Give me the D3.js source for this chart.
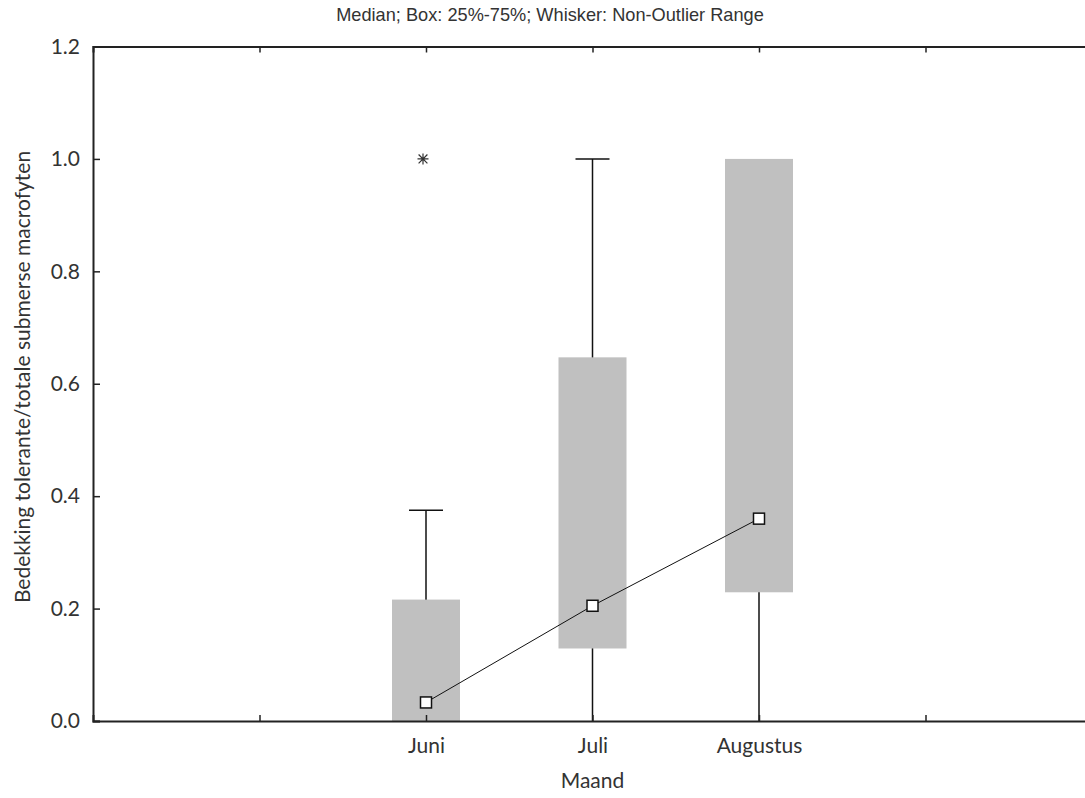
<!DOCTYPE html>
<html><head><meta charset="utf-8">
<script src="https://cdn.jsdelivr.net/npm/d3@7"></script>
<style>body{margin:0;background:#fff}</style>
</head><body>
<script>
const categories = ["Juni", "Juli", "Augustus"];
const medians = [0.033, 0.205, 0.360];
const q1 = [0.0, 0.129, 0.229];
const q3 = [0.216, 0.647, 1.0];
const whiskerLow = [0.0, 0.0, 0.0];
const whiskerHigh = [0.375, 1.0, 1.0];
const outliers = [{cat: "Juni", value: 1.0}];
const yTicks = [0.0, 0.2, 0.4, 0.6, 0.8, 1.0, 1.2];
const title = "Median; Box: 25%-75%; Whisker: Non-Outlier Range";
const xLabel = "Maand";
const yLabel = "Bedekking tolerante/totale submerse macrofyten";

const W = 1085, H = 798;
const svg = d3.select("body").append("svg").attr("width", W).attr("height", H);
const mLeft = 93, mRight = 1092, mTop = 46.5, mBottom = 721;
const x = d3.scalePoint().domain(["_l", "_a", ...categories, "_b", "_r"]).range([mLeft, mRight]);
const y = d3.scaleLinear().domain([0, 1.2]).range([mBottom, mTop]);
const tickFont = "Lato, 'Open Sans', sans-serif";
const fs = 21;

// title
svg.append("text").attr("x", 550).attr("y", 21).attr("text-anchor", "middle")
  .attr("font-family", "'Liberation Sans', Arial, sans-serif").attr("font-size", 18.2)
  .attr("fill", "#333").text(title);

const g = svg.append("g");
const boxW = 68, capW = 34;

categories.forEach((c, i) => {
  const cx = x(c);
  g.append("line").attr("x1", cx).attr("x2", cx).attr("y1", y(whiskerLow[i])).attr("y2", y(whiskerHigh[i]))
    .attr("stroke", "#111").attr("stroke-width", 1.5);
  if (whiskerHigh[i] > q3[i]) {
    g.append("line").attr("x1", cx - capW/2).attr("x2", cx + capW/2).attr("y1", y(whiskerHigh[i])).attr("y2", y(whiskerHigh[i]))
      .attr("stroke", "#111").attr("stroke-width", 1.5);
  }
  g.append("rect").attr("x", cx - boxW/2).attr("y", y(q3[i])).attr("width", boxW).attr("height", y(q1[i]) - y(q3[i]))
    .attr("fill", "#c0c0c0");
});

// outliers (8-armed asterisk)
outliers.forEach(o => {
  const cx = x(o.cat) - 3, cy = y(o.value), r = 5.5, d = r * 0.8;
  const p = `M${cx},${cy - r}V${cy + r}M${cx - r},${cy}H${cx + r}M${cx - d},${cy - d}L${cx + d},${cy + d}M${cx - d},${cy + d}L${cx + d},${cy - d}`;
  g.append("path").attr("d", p).attr("stroke", "#333").attr("stroke-width", 1.2).attr("fill", "none");
});

// median line
const line = d3.line().x((d, i) => x(categories[i])).y(d => y(d));
g.append("path").attr("d", line(medians)).attr("fill", "none").attr("stroke", "#111").attr("stroke-width", 1);
g.selectAll("rect.med").data(medians).join("rect").attr("class", "med")
  .attr("x", (d, i) => x(categories[i]) - 5.5).attr("y", d => y(d) - 5.5)
  .attr("width", 11).attr("height", 11).attr("fill", "#fff").attr("stroke", "#111").attr("stroke-width", 1.5);

// axes
const axisColor = "#222";
const yAxis = d3.axisLeft(y).tickValues(yTicks).tickSize(-7).tickPadding(13).tickFormat(d3.format(".1f"));
svg.append("g").attr("transform", `translate(${mLeft},0)`).call(yAxis);
const yAxisR = d3.axisRight(y).tickValues(yTicks).tickSize(-7).tickFormat("");
svg.append("g").attr("transform", `translate(${mRight},0)`).call(yAxisR);
const xTickVals = ["_a", ...categories, "_b"];
const xAxis = d3.axisBottom(x).tickValues(xTickVals).tickSize(-6).tickPadding(17)
  .tickFormat(d => d.startsWith("_") ? "" : d);
svg.append("g").attr("transform", `translate(0,${mBottom})`).call(xAxis);
const xAxisT = d3.axisTop(x).tickValues(xTickVals).tickSize(-6).tickFormat("");
svg.append("g").attr("transform", `translate(0,${mTop})`).call(xAxisT);

svg.selectAll(".domain").attr("stroke", axisColor).attr("stroke-width", 2);
svg.selectAll(".tick line").attr("stroke", axisColor).attr("stroke-width", 1.5);
svg.selectAll(".tick text").attr("font-family", tickFont).attr("font-size", fs).attr("fill", "#333");

// labels
svg.append("text").attr("x", x("Juli")).attr("y", 788).attr("text-anchor", "middle")
  .attr("font-family", tickFont).attr("font-size", fs).attr("fill", "#333").text(xLabel);
svg.append("text").attr("transform", `translate(30,377) rotate(-90)`).attr("text-anchor", "middle")
  .attr("font-family", tickFont).attr("font-size", fs).attr("fill", "#333").text(yLabel);
</script>
</body></html>
